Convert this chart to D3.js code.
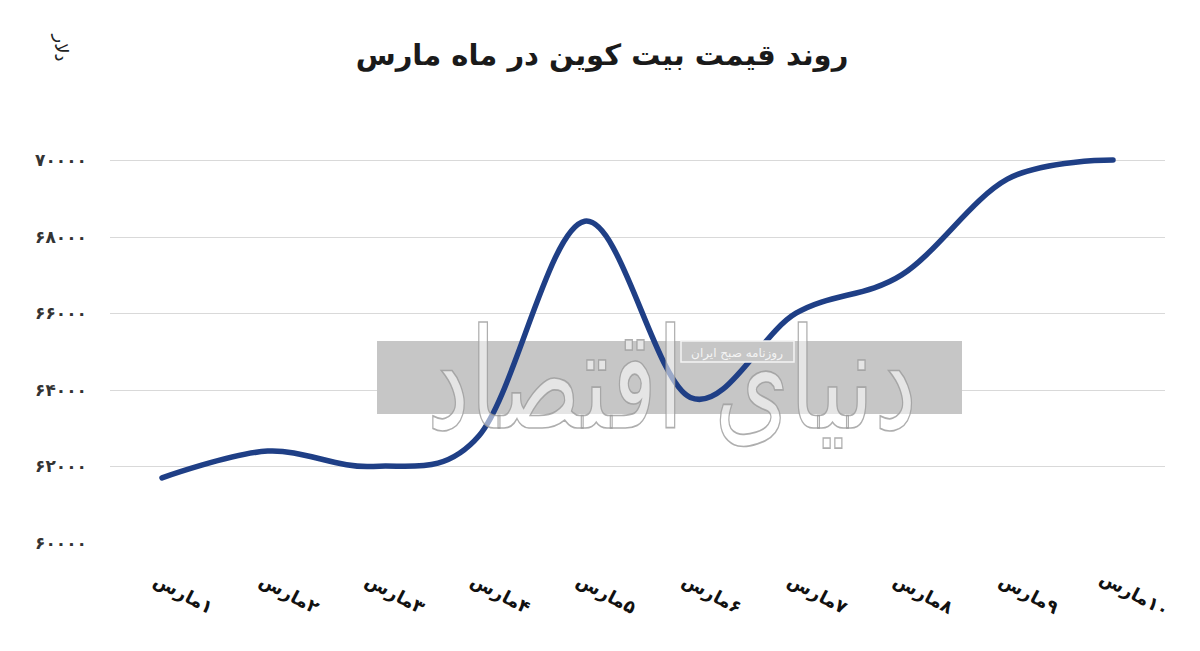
<!DOCTYPE html>
<html>
<head>
<meta charset="utf-8">
<script src="https://cdn.jsdelivr.net/npm/d3@7/dist/d3.min.js"></script>
<style>
  html, body { margin: 0; padding: 0; background: #fff; }
  svg { display: block; }
</style>
</head>
<body>
<svg id="chart" width="1200" height="651"></svg>
<script>
// ---- data ----
const categories = ["۱مارس", "۲مارس", "۳مارس", "۴مارس", "۵مارس", "۶مارس", "۷مارس", "۸مارس", "۹مارس", "۱۰مارس"];
const prices = [61700, 62400, 62000, 62800, 68400, 63800, 66000, 67000, 69500, 70000];
const yTicks = [60000, 62000, 64000, 66000, 68000, 70000];
const yTickLabels = ["۶۰۰۰۰", "۶۲۰۰۰", "۶۴۰۰۰", "۶۶۰۰۰", "۶۸۰۰۰", "۷۰۰۰۰"];
const titleText = "روند قیمت بیت کوین در  ماه مارس";
const unitText = "دلار";
const watermarkText = "دنیای اقتصاد";
const watermarkSub = "روزنامه صبح ایران";

const svg = d3.select("#chart");
const FONT = "'DejaVu Sans', 'Noto Sans', sans-serif";

const x = d3.scalePoint().domain(categories).range([162, 1113]);
const y = d3.scaleLinear().domain([60000, 70000]).range([543, 160]);

// gridlines (no line at the base value)
svg.append("g").selectAll("line")
  .data(yTicks.filter(v => v > 60000))
  .join("line")
  .attr("x1", 110).attr("x2", 1165)
  .attr("y1", d => Math.round(y(d)) + 0.5).attr("y2", d => Math.round(y(d)) + 0.5)
  .attr("stroke", "#d9d9d9").attr("stroke-width", 1);

// y axis labels
const yAxis = d3.axisLeft(y).tickValues(yTicks)
  .tickFormat((d, i) => yTickLabels[i]).tickSize(0).tickPadding(0);
const gy = svg.append("g").attr("transform", "translate(87,0)").call(yAxis);
gy.select(".domain").remove();
gy.selectAll("text")
  .attr("font-family", FONT).attr("font-size", 17).attr("font-weight", "bold")
  .attr("fill", "#333").attr("text-anchor", "end").attr("direction", "ltr");

// watermark background
const wm = svg.append("g");
wm.append("rect").attr("x", 377).attr("y", 341).attr("width", 585).attr("height", 73).attr("fill", "#c6c6c6");

// line
const line = d3.line()
  .x((d, i) => x(categories[i]))
  .y(d => y(d))
  .curve(d3.curveCardinal.tension(0));
svg.append("path").datum(prices)
  .attr("d", line)
  .attr("fill", "none").attr("stroke", "#1f3f86").attr("stroke-width", 5.5)
  .attr("stroke-linecap", "round").attr("stroke-linejoin", "round");

// watermark calligraphy (outlined, semi-transparent white), stretched vertically
const wg = svg.append("g");
const wt = wg.append("text").attr("x", 0).attr("y", 0).attr("text-anchor", "middle")
  .attr("font-family", FONT).attr("font-size", 100)
  .attr("fill", "#ffffff").attr("fill-opacity", 0.55)
  .attr("stroke", "#9a9a9a").attr("stroke-width", 1).attr("stroke-opacity", 0.8)
  .attr("direction", "rtl").style("unicode-bidi", "plaintext").text(watermarkText);
(function fit(){
  const w = wt.node().getComputedTextLength();
  const sx = w > 0 ? 490 / w : 1;
  wg.attr("transform", `translate(672,428) scale(${sx},${sx * 1.45})`);
  wt.attr("stroke-width", 1.2 / sx);
})();

// sub-label box of the watermark
wm.raise;
svg.append("rect").attr("x", 681).attr("y", 341).attr("width", 113).attr("height", 21)
  .attr("fill", "#c6c6c6").attr("stroke", "#f4f4f4").attr("stroke-width", 1.5);
svg.append("text").attr("x", 737).attr("y", 357).attr("text-anchor", "middle")
  .attr("font-family", FONT).attr("font-size", 12).attr("fill", "#f4f4f4")
  .attr("direction", "rtl").style("unicode-bidi", "plaintext").text(watermarkSub);

// x labels (rotated)
svg.append("g").selectAll("text")
  .data(categories)
  .join("text")
  .attr("transform", d => `translate(${x(d) + 21},${595}) rotate(28)`)
  .attr("text-anchor", "middle").attr("dominant-baseline", "middle")
  .attr("font-family", FONT).attr("font-size", 18).attr("font-weight", "bold")
  .attr("fill", "#111").attr("direction", "rtl").style("unicode-bidi", "plaintext")
  .text(d => d);

// title
const title = svg.append("text").attr("x", 602).attr("y", 65).attr("text-anchor", "middle")
  .attr("font-family", FONT).attr("font-size", 30).attr("font-weight", "bold")
  .attr("fill", "#1a1a1a").attr("direction", "rtl").style("unicode-bidi", "plaintext")
  .text(titleText);
(function fit(){
  const w = title.node().getComputedTextLength();
  if (w > 0) title.attr("font-size", 30 * 493 / w);
})();

// unit label (rotated)
svg.append("text").attr("transform", "translate(60,48) rotate(90)")
  .attr("text-anchor", "middle").attr("dominant-baseline", "middle")
  .attr("font-family", FONT).attr("font-size", 18).attr("fill", "#222")
  .attr("direction", "rtl").style("unicode-bidi", "plaintext").text(unitText);
</script>
</body>
</html>
